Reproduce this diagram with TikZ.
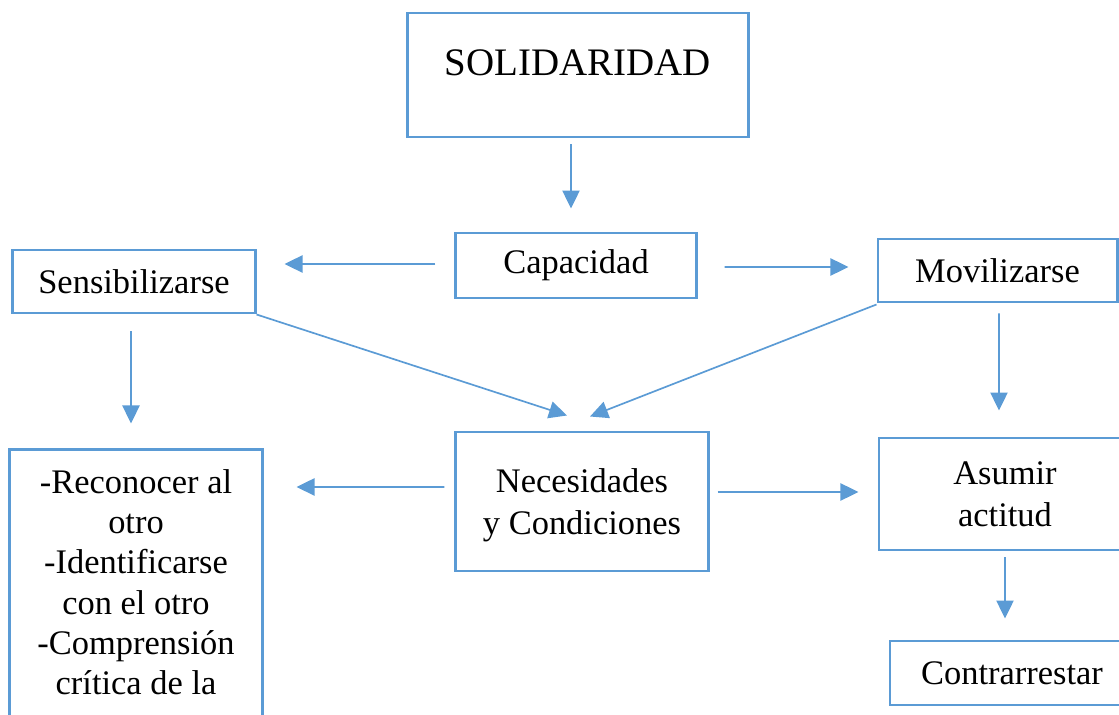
\documentclass[tikz,border=0pt]{standalone}
\usepackage{fontspec}
\setmainfont{Liberation Serif}
\usetikzlibrary{arrows.meta,calc}
\definecolor{boxblue}{HTML}{5B9BD5}

\begin{document}
\begin{tikzpicture}[x=0.025cm,y=-0.025cm,>={Triangle[length=0.45cm,width=0.43cm]},
	box/.style={draw=boxblue,line width=2.1pt,inner sep=0pt,align=center,font=\fontsize{24.5}{30}\selectfont},
	txt/.style={inner sep=0pt,align=center,font=\fontsize{24.5}{30}\selectfont},
	arr/.style={->,color=boxblue,line width=1.2pt}]
		\useasboundingbox (0,0) rectangle (1119,715);
		\node[box,minimum width=8.5cm,minimum height=3.1cm] (sol) at (578,75) {};
		\node[txt,font=\fontsize{27.7}{32}\selectfont] (soltxt) at (578,62.5) {SOLIDARIDAD};
		\node[box,minimum width=6cm,minimum height=1.625cm] (cap) at (576,265.5) {Capacidad};
		\node[box,minimum width=6.05cm,minimum height=1.575cm] (sens) at (134,281.5) {Sensibilizarse};
		\node[box,minimum width=5.975cm,minimum height=1.575cm] (mov) at (997.5,270.5) {Movilizarse};
		\node[box,minimum width=6.3cm,minimum height=3.475cm,text depth=0pt] (nec) at (582,501.5) {Necesidades\\y Condiciones};
		\node[box,minimum width=6.3cm,minimum height=8.75cm] (rec) at (136,625) {};
		\node[txt,anchor=north,font=\fontsize{24.5}{28.7}\selectfont] (rectxt) at (136,469) {-Reconocer al\\otro\\-Identificarse\\con el otro\\-Comprensión\\crítica de la};
		\node[box,minimum width=6.3cm,minimum height=2.8cm] (asu) at (1005,494) {Asumir\\actitud};
		\node[box,minimum width=6.1cm,minimum height=1.6cm] (con) at (1012,673) {Contrarrestar};
		\path[arr]
			($(sol.south)+(-7,6)$) edge ($(cap.north)+(-5,-23)$)
			($(cap.west)+(-19,-1.5)$) edge ($(sens.east)+(28,-17.5)$)
			($(cap.east)+(27,1.5)$) edge ($(mov.west)+(-28,-3.5)$)
			($(sens.south)+(-3,17)$) edge ($(rec.north)+(-5,-25)$)
			(sens.south east) edge ($(nec.north)+(-15,-15)$)
			($(mov.south west)+(0,1)$) edge ($(nec.north)+(8,-14)$)
			($(mov.south)+(1.5,10)$) edge ($(asu.north)+(-6,-26)$)
			($(nec.west)+(-10,-14.5)$) edge ($(rec.north east)+(33,38.5)$)
			($(nec.east)+(8,-9.5)$) edge ($(asu.west)+(-19,-2)$)
			($(asu.south)+(0,6)$) edge ($(con.north)+(-7,-21)$);
	\end{tikzpicture}
\end{document}
